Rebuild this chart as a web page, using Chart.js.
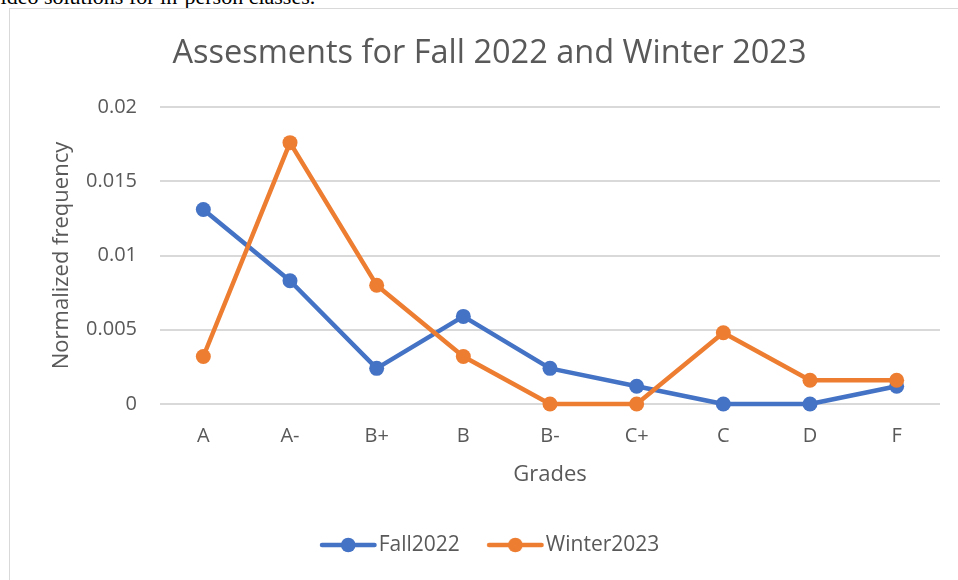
<!DOCTYPE html>
<html>
<head>
<meta charset="utf-8">
<script src="https://cdn.jsdelivr.net/npm/chart.js@4.4.0/dist/chart.umd.min.js"></script>
<style>
  html, body { margin: 0; padding: 0; background: #fff; overflow: hidden; }
  body { width: 958px; height: 580px; position: relative; }
  #pageText {
    position: absolute; left: -14px; top: -14px;
    font-family: "Liberation Serif", "DejaVu Serif", serif;
    font-size: 22px; line-height: 22px; color: #000; white-space: nowrap;
  }
  #frame {
    position: absolute; left: 9px; top: 8px; width: 960px; height: 580px;
    border-left: 1px solid #d9d9d9; border-top: 1px solid #d9d9d9;
  }
  #chart { position: absolute; left: 10px; top: 9px; }
</style>
</head>
<body>
<div id="pageText">Video solutions for in-person classes.</div>
<div id="frame"></div>
<canvas id="chart" width="948" height="571" style="width:948px;height:571px"></canvas>
<script>
// --- Data ---
const grades = ['A', 'A-', 'B+', 'B', 'B-', 'C+', 'C', 'D', 'F'];
const fall2022 = [0.0131, 0.0083, 0.0024, 0.0059, 0.0024, 0.0012, 0, 0, 0.0012];
const winter2023 = [0.0032, 0.0176, 0.0080, 0.0032, 0, 0, 0.0048, 0.0016, 0.0016];
const yTicks = [0, 0.005, 0.01, 0.015, 0.02];
const yTickLabels = ['0', '0.005', '0.01', '0.015', '0.02'];

const BLUE = '#4472C4';
const ORANGE = '#ED7D31';
const TEXT = '#595959';
const GRID = '#d9d9d9';
const FONT = '"Open Sans", "Noto Sans", sans-serif';

// Excel-style legend marker: line with a dot in the middle
function legendMarker(color) {
  const c = document.createElement('canvas');
  c.width = 66;
  c.height = 16;
  const g = c.getContext('2d');
  g.strokeStyle = color;
  g.lineWidth = 4.5;
  g.lineCap = 'round';
  g.beginPath();
  g.moveTo(11, 8);
  g.lineTo(63.5, 8);
  g.stroke();
  g.fillStyle = color;
  g.beginPath();
  g.arc(37.25, 8, 7.3, 0, Math.PI * 2);
  g.fill();
  return c;
}
const markers = [legendMarker(BLUE), legendMarker(ORANGE)];

const ctx = document.getElementById('chart').getContext('2d');

new Chart(ctx, {
  type: 'line',
  data: {
    labels: grades,
    datasets: [
      {
        label: 'Fall2022', data: fall2022, order: 1, clip: false,
        borderColor: BLUE, backgroundColor: BLUE, borderWidth: 4.5,
        pointRadius: 7.5, pointBorderWidth: 0, pointBackgroundColor: BLUE,
        tension: 0, borderCapStyle: 'round', borderJoinStyle: 'round'
      },
      {
        label: 'Winter2023', data: winter2023, order: 0, clip: false,
        borderColor: ORANGE, backgroundColor: ORANGE, borderWidth: 4.5,
        pointRadius: 7.5, pointBorderWidth: 0, pointBackgroundColor: ORANGE,
        tension: 0, borderCapStyle: 'round', borderJoinStyle: 'round'
      }
    ]
  },
  options: {
    responsive: false,
    animation: false,
    devicePixelRatio: 1,
    layout: { padding: { left: 29, right: 18, top: 0, bottom: 14.5 } },
    plugins: {
      tooltip: { enabled: false },
      title: {
        display: true,
        text: 'Assesments for Fall 2022 and Winter 2023',
        color: TEXT,
        font: { family: FONT, size: 32.5, weight: 'normal' },
        padding: { top: 25, bottom: 34 }
      },
      legend: {
        position: 'bottom',
        labels: {
          color: TEXT,
          font: { family: FONT, size: 21 },
          usePointStyle: true,
          pointStyleWidth: 48.5,
          padding: 27,
          sort: (a, b) => a.datasetIndex - b.datasetIndex,
          generateLabels: chart => Chart.defaults.plugins.legend.labels.generateLabels(chart)
            .map(item => Object.assign(item, { pointStyle: markers[item.datasetIndex] }))
        }
      }
    },
    scales: {
      x: {
        offset: true,
        afterFit: scale => { scale.height = 103.5; },
        grid: { display: false, drawTicks: false },
        border: { display: false },
        ticks: { color: TEXT, font: { family: FONT, size: 20 }, padding: 20 },
        title: {
          display: true, text: 'Grades', color: TEXT,
          font: { family: FONT, size: 22 },
          padding: { top: 0, bottom: 20 }
        }
      },
      y: {
        min: 0,
        max: 0.02,
        afterFit: scale => { scale.width = 121; },
        afterBuildTicks: scale => { scale.ticks = yTicks.map(v => ({ value: v })); },
        grid: { color: GRID, lineWidth: 2, drawTicks: false },
        border: { display: false },
        ticks: {
          color: TEXT, font: { family: FONT, size: 20 }, padding: 23,
          callback: (v, i) => yTickLabels[i]
        },
        title: {
          display: true, text: 'Normalized frequency', color: TEXT,
          font: { family: FONT, size: 22 },
          padding: { top: 10, bottom: 0 }
        }
      }
    }
  }
});
</script>
</body>
</html>
